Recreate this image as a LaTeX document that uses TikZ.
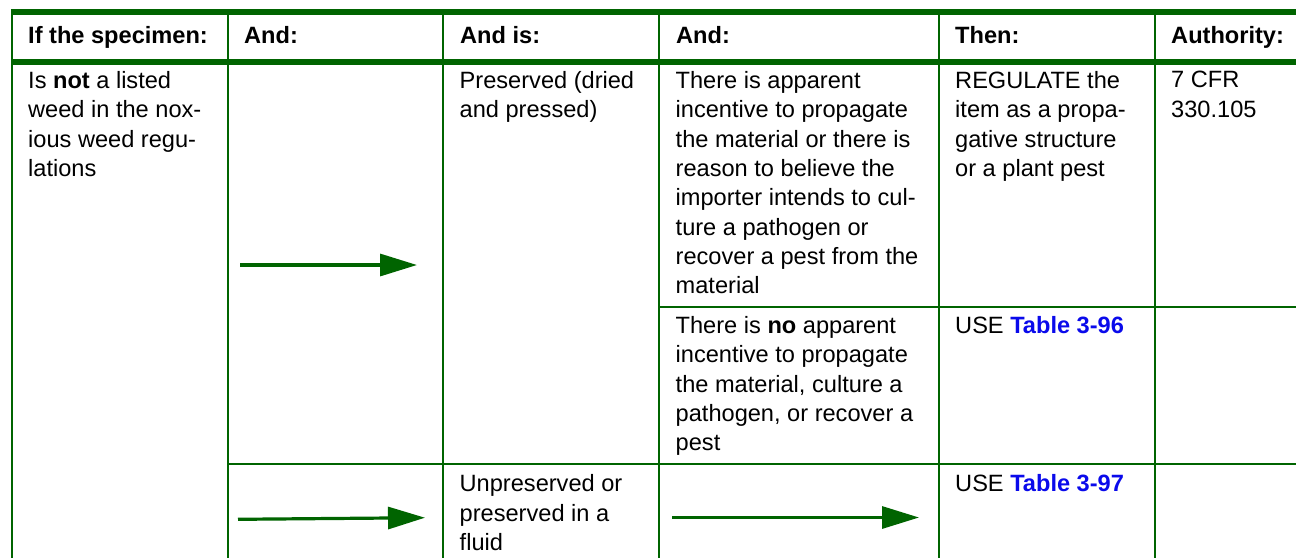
\documentclass[tikz,border=0pt]{standalone}
\usepackage{fontspec}
\setmainfont{Liberation Sans}
\usetikzlibrary{arrows.meta}
\definecolor{tgreen}{RGB}{0,100,0}
\definecolor{tblue}{RGB}{10,10,235}
\begin{document}
\begin{tikzpicture}[x=1pt,y=-1pt,
  gridline/.style={draw=tgreen,line width=1.7pt},
  heavyrule/.style={draw=tgreen,line width=5.7pt},
  cell/.style={anchor=north west,inner sep=0pt,align=left,font=\fontsize{23.6}{29.3}\selectfont},
  headcell/.style={anchor=base west,inner sep=0pt,font=\fontsize{23.6}{29.3}\selectfont\bfseries},
  flow/.style={draw=tgreen,line width=3.2pt,-{Triangle[length=37pt,width=22pt]}}]
\useasboundingbox (0,0) rectangle (1296,558);
% grid
\foreach \x in {11.7,227.7,443.3,659.3,938.7,1154.7}{
  \draw[gridline] (\x,12) -- (\x,558);
}
\draw[gridline] (659.3,306.7) -- (1296,306.7);
\draw[gridline] (227.7,464.3) -- (1296,464.3);
\draw[heavyrule] (10.9,12.2) -- (1296,12.2);
\draw[heavyrule] (10.9,62.2) -- (1296,62.2);
% header
\node[headcell] (h1) at (28,43.5) {If the specimen:};
\node[headcell] (h2) at (244,43.5) {And:};
\node[headcell] (h3) at (460,43.5) {And is:};
\node[headcell] (h4) at (676,43.5) {And:};
\node[headcell] (h5) at (955,43.5) {Then:};
\node[headcell] (h6) at (1171,43.5) {Authority:};
% row 1
\node[cell] (c1) at (28,71.3) {Is \textbf{not} a listed\\weed in the nox-\\ious weed regu-\\lations};
\node[cell] (c3a) at (459.5,71.3) {Preserved (dried\\and pressed)};
\node[cell] (c4a) at (675.5,71.3) {There is apparent\\incentive to propagate\\the material or there is\\reason to believe the\\importer intends to cul-\\ture a pathogen or\\recover a pest from the\\material};
\node[cell] (c5a) at (955,71.3) {REGULATE the\\item as a propa-\\gative structure\\or a plant pest};
\node[cell] (c6a) at (1171,71.3) {7 CFR\\330.105};
% row 2
\node[cell] (c4b) at (675.5,316.3) {There is \textbf{no} apparent\\incentive to propagate\\the material, culture a\\pathogen, or recover a\\pest};
\node[cell] (c5b) at (955,316.3) {USE \textcolor{tblue}{\textbf{Table 3-96}}};
% row 3
\node[cell] (c3c) at (459.5,474.5) {Unpreserved or\\preserved in a\\fluid};
\node[cell] (c5c) at (955,474.5) {USE \textcolor{tblue}{\textbf{Table 3-97}}};
% arrows
\coordinate (a1s) at (240,265);
\coordinate (a1e) at (417,265);
\coordinate (a2s) at (238,519.3);
\coordinate (a2e) at (425,517.7);
\coordinate (a3s) at (672,517.5);
\coordinate (a3e) at (919,517.5);
\draw[flow] (a1s) -- (a1e);
\draw[flow] (a2s) -- (a2e);
\draw[flow] (a3s) -- (a3e);
\end{tikzpicture}
\end{document}
